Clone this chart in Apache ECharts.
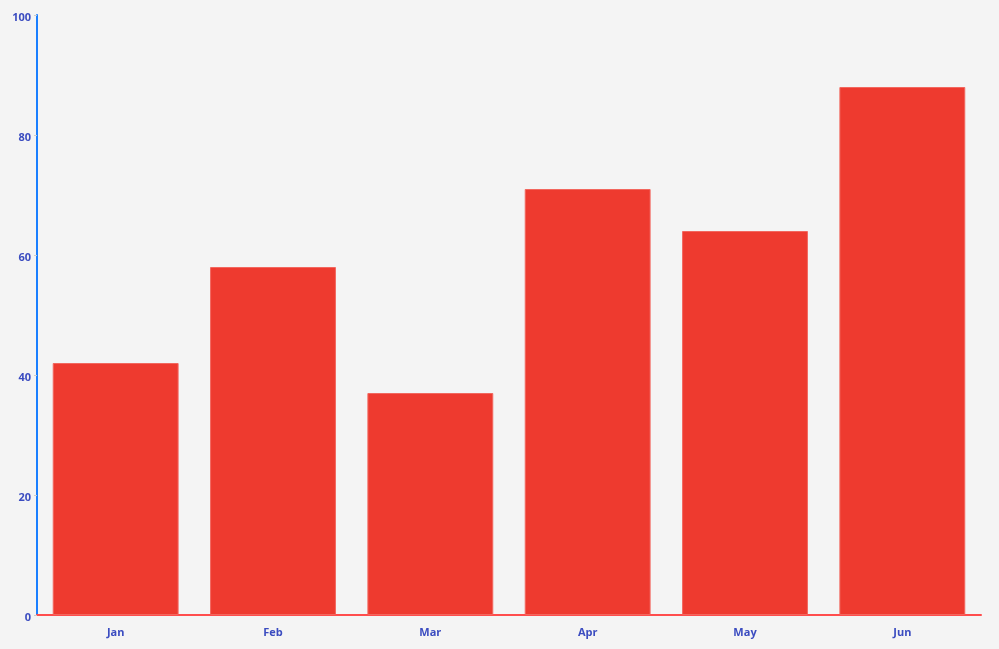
<!DOCTYPE html>
<html>
<head>
<meta charset="utf-8">
<script src="https://cdn.jsdelivr.net/npm/echarts@6/dist/echarts.min.js"></script>
<style>
  html, body { margin: 0; padding: 0; background: #f4f4f4; }
  #main { width: 999px; height: 649px; }
</style>
</head>
<body>
<div id="main"></div>
<script>
var months = ['Jan', 'Feb', 'Mar', 'Apr', 'May', 'Jun'];
var values = [42, 58, 37, 71, 64, 88];

var chart = echarts.init(document.getElementById('main'));
var labelStyle = {
  color: '#3b4cc0',
  fontWeight: 'bold',
  fontSize: 11,
  fontFamily: 'Open Sans'
};
chart.setOption({
  backgroundColor: '#f4f4f4',
  animation: false,
  grid: { left: 37, right: 18, top: 15, bottom: 34 },
  xAxis: {
    type: 'category',
    data: months,
    axisLine: { lineStyle: { color: '#ff4d4d', width: 2 } },
    axisTick: { lineStyle: { color: '#cccccc' }, length: 4 },
    axisLabel: Object.assign({ margin: 12 }, labelStyle)
  },
  yAxis: {
    type: 'value',
    min: 0,
    max: 100,
    interval: 20,
    splitLine: { show: false },
    axisLine: { show: true, lineStyle: { color: '#1a7fff', width: 2 } },
    axisTick: { show: true, length: 3, lineStyle: { color: '#cccccc' } },
    axisLabel: Object.assign({ margin: 6, verticalAlign: 'top', lineHeight: 6 }, labelStyle)
  },
  series: [{
    type: 'bar',
    data: values,
    barCategoryGap: '20%',
    itemStyle: { color: '#ee3a2f', borderColor: '#f2675e', borderWidth: 1 }
  }]
});
</script>
</body>
</html>
